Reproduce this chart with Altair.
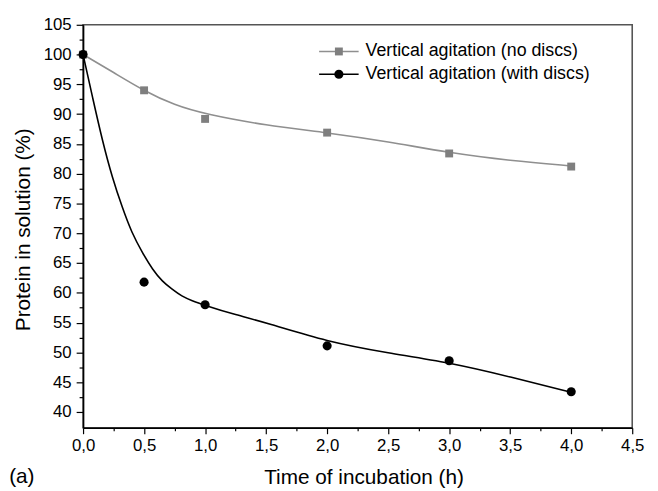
import altair as alt
import pandas as pd

# ---- data ----
series_names = ["Vertical agitation (no discs)", "Vertical agitation (with discs)"]
time_h = [0, 0.5, 1, 2, 3, 4]
no_discs = [100, 94.0, 89.2, 86.9, 83.4, 81.2]
with_discs = [100, 61.8, 58.0, 51.1, 48.6, 43.4]

# fitted curves
fit_no_t = [0, 0.25, 0.5, 0.75, 1.0, 1.5, 2.0, 2.5, 3.0, 3.5, 4.0]
fit_no_v = [100, 97.0, 93.9, 91.5, 90.0, 88.1, 86.9, 85.4, 83.5, 82.2, 81.3]
fit_with_t = [0, 0.08, 0.16, 0.24, 0.32, 0.40, 0.49, 0.57, 0.65, 0.73, 0.81, 0.89,
              1.0, 1.25, 1.5, 2.0, 2.5, 3.0, 3.5, 4.0]
fit_with_v = [100, 92.6, 85.4, 79.3, 74.4, 70.0, 66.6, 63.9, 61.9, 60.6, 59.4, 58.7,
              57.9, 56.3, 55.0, 51.8, 49.9, 48.3, 45.9, 43.3]

x_ticks = [i * 0.25 for i in range(0, 19)]
y_ticks = [40 + i * 2.5 for i in range(0, 27)]

GRAY_PT = "#7f7f7f"
GRAY_LN = "#8f8f8f"
BLACK = "#000000"
FONT = "Liberation Sans"

pts = pd.DataFrame({"t": time_h, "no": no_discs, "with": with_discs})
fit_no = pd.DataFrame({"t": fit_no_t, "v": fit_no_v})
fit_with = pd.DataFrame({"t": fit_with_t, "v": fit_with_v})

x_scale = alt.Scale(domain=[0, 4.5], nice=False, zero=False)
y_scale = alt.Scale(domain=[37.35, 105], nice=False, zero=False)

x_axis = alt.Axis(
    values=x_ticks,
    labelExpr="abs(datum.value * 2 - round(datum.value * 2)) < 0.001 ? replace(format(datum.value, '.1f'), '.', ',') : ''",
    tickSize={"condition": {"test": "abs(datum.value * 2 - round(datum.value * 2)) < 0.001", "value": 6}, "value": 3},
    labelOverlap=False, labelFlush=False, labelBound=False,
    labelFontSize=17, labelPadding=4,
    title="Time of incubation (h)", titleFontSize=21, titleFontWeight="normal",
    titleX=284, titleY=56, titleBaseline="alphabetic", titleAlign="center",
    grid=False,
)
y_axis = alt.Axis(
    values=y_ticks,
    labelExpr="abs(datum.value / 5 - round(datum.value / 5)) < 0.001 ? format(datum.value, 'd') : ''",
    tickSize={"condition": {"test": "abs(datum.value / 5 - round(datum.value / 5)) < 0.001", "value": 7}, "value": 4},
    labelOverlap=False, labelFlush=False, labelBound=False,
    labelFontSize=17, labelPadding=5,
    title="Protein in solution (%)", titleFontSize=21, titleFontWeight="normal",
    titleX=-54, titleY=207, titleAngle=-90, titleBaseline="alphabetic", titleAlign="center",
    grid=False,
)

X_T = alt.X("t:Q", scale=x_scale, axis=x_axis)

line_no = alt.Chart(fit_no).mark_line(color=GRAY_LN, strokeWidth=1.6, interpolate="basis").encode(
    x=X_T, y=alt.Y("v:Q", scale=y_scale, axis=y_axis),
)
line_with = alt.Chart(fit_with).mark_line(color=BLACK, strokeWidth=1.6, interpolate="basis").encode(
    x=X_T, y=alt.Y("v:Q", scale=y_scale, axis=y_axis),
)
pt_no = alt.Chart(pts).mark_point(shape="square", filled=True, color=GRAY_PT, size=64, opacity=1).encode(
    x=X_T, y=alt.Y("no:Q", scale=y_scale, axis=y_axis),
)
pt_with = alt.Chart(pts).mark_point(shape="circle", filled=True, color=BLACK, size=85, opacity=1).encode(
    x=X_T, y=alt.Y("with:Q", scale=y_scale, axis=y_axis),
)

# ---- legend (drawn manually) ----
leg_df0 = pd.DataFrame({"name": [series_names[0]]})
leg_df1 = pd.DataFrame({"name": [series_names[1]]})
LX0, LX1, LXM, LTX = 239, 279, 259, 286
LY0, LY1 = 27, 50

leg = (
    alt.Chart(leg_df0).mark_rule(color=GRAY_LN, strokeWidth=1.6).encode(
        x=alt.value(LX0), x2=alt.value(LX1), y=alt.value(LY0))
    + alt.Chart(leg_df0).mark_point(shape="square", filled=True, color=GRAY_PT, size=64, opacity=1).encode(
        x=alt.value(LXM), y=alt.value(LY0))
    + alt.Chart(leg_df0).mark_text(align="left", baseline="middle", fontSize=18, font=FONT, color="#000").encode(
        x=alt.value(LTX), y=alt.value(LY0), text="name:N")
    + alt.Chart(leg_df1).mark_rule(color=BLACK, strokeWidth=1.6).encode(
        x=alt.value(LX0), x2=alt.value(LX1), y=alt.value(LY1))
    + alt.Chart(leg_df1).mark_point(shape="circle", filled=True, color=BLACK, size=85, opacity=1).encode(
        x=alt.value(LXM), y=alt.value(LY1))
    + alt.Chart(leg_df1).mark_text(align="left", baseline="middle", fontSize=18, font=FONT, color="#000").encode(
        x=alt.value(LTX), y=alt.value(LY1), text="name:N")
)

panel_label = alt.Chart(pd.DataFrame({"lab": ["(a)"]})).mark_text(
    align="center", baseline="alphabetic", fontSize=21, font=FONT, color="#000"
).encode(x=alt.value(-62), y=alt.value(464), text="lab:N")

chart = alt.layer(line_no, line_with, pt_no, pt_with, leg, panel_label).properties(
    width=556, height=408,
    autosize=alt.AutoSizeParams(type="none"),
    padding={"left": 76, "top": 14, "right": 18, "bottom": 60},
    background="white",
).configure_view(
    stroke="#555555", strokeWidth=1.6
).configure_axis(
    domainColor="#000000", domainWidth=1.6, tickColor="#000000", tickWidth=1.2,
    labelColor="#000000", titleColor="#000000", labelFont=FONT, titleFont=FONT,
)

chart.save("out.html", embed_options={"renderer": "svg", "actions": False})
